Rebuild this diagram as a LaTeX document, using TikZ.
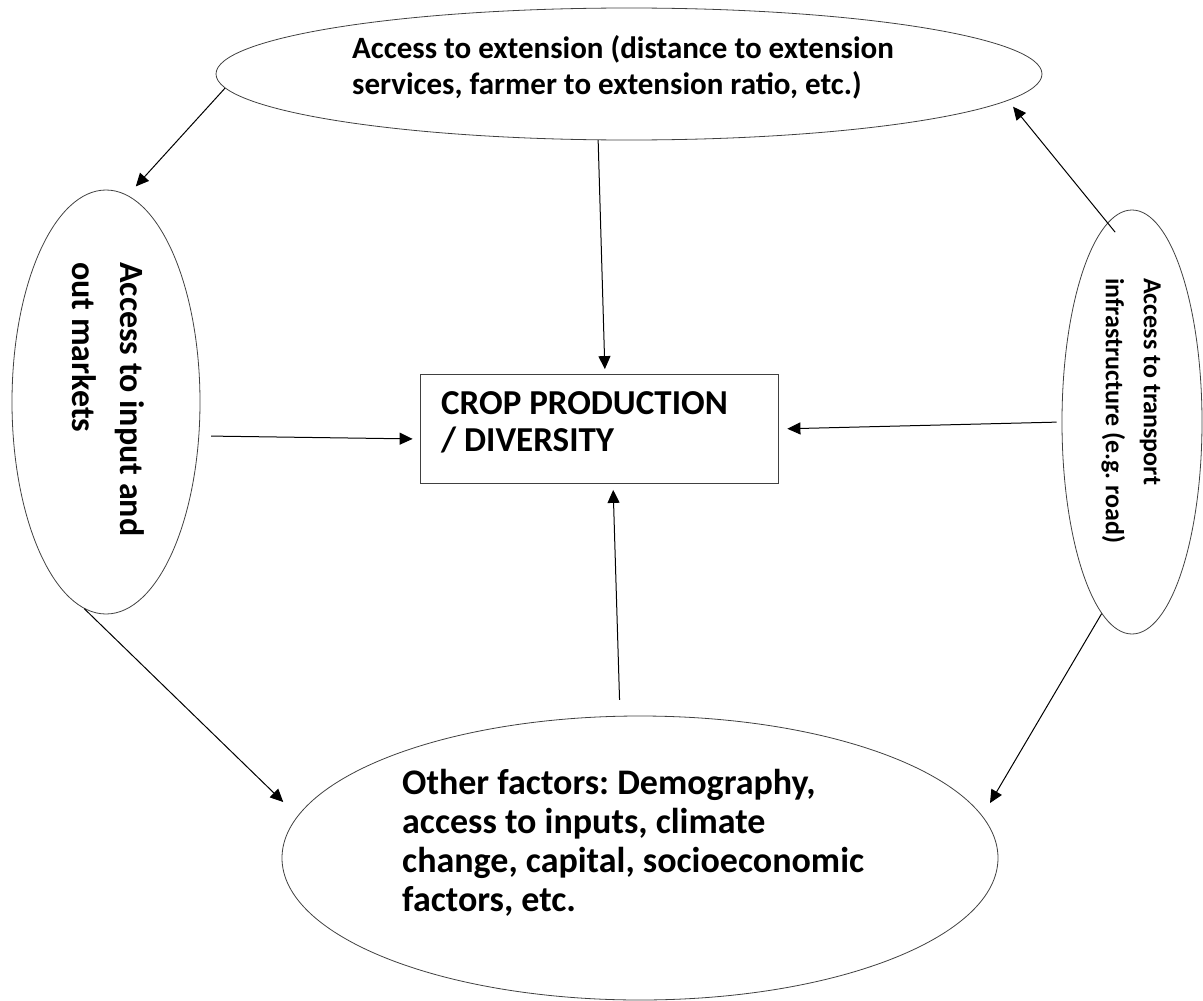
\documentclass[tikz,border=0pt]{standalone}
\usepackage{fontspec}
\setmainfont{Carlito}
\usepackage{tikz}
\usetikzlibrary{arrows.meta, shapes.geometric, calc}
\frenchspacing

\begin{document}
\begin{tikzpicture}[x=1pt, y=-1pt,
   every node/.style={inner sep=0pt},
   oval/.style={draw=black!75, ellipse, line width=0.8pt},
   box/.style={draw=black!75, line width=0.8pt,
               minimum width=358pt, minimum height=109pt},
   arr/.style={-{Triangle[length=13pt, width=12pt]}, line width=1pt}]
  \useasboundingbox (0,0) rectangle (1203,1001);

  % the five blocks
  \node[oval, minimum width=826pt, minimum height=132pt] (ext) at (629,74) {};
  \node[oval, minimum width=188pt, minimum height=424pt] (mkt) at (106,402) {};
  \node[oval, minimum width=140pt, minimum height=424pt] (road) at (1132,422) {};
  \node[oval, minimum width=716pt, minimum height=284pt] (other) at (640,858) {};
  \node[box] (crop) at (599,429) {};

  % their texts
  \node[align=left, font=\bfseries\fontsize{31}{36}\selectfont]
       (exttxt) at (623,67)
       {Access to extension (distance to extension\\
        services, farmer to extension ratio, etc.)};
  \node[align=left, anchor=north west, rotate=-90,
        font=\bfseries\fontsize{34}{48}\selectfont]
       (mkttxt) at (145,262) {Access to input and\\out markets};
  \node[align=left, anchor=north west, rotate=-90,
        font=\bfseries\fontsize{26}{38}\selectfont]
       (roadtxt) at (1161,278) {Access to transport\\infrastructure (e.g. road)};
  \node[align=left, anchor=west, font=\bfseries\fontsize{36}{39}\selectfont]
       (othertxt) at (402,843)
       {Other factors: Demography,\\access to inputs, climate\\
        change, capital, socioeconomic\\factors, etc.};
  \node[align=left, anchor=north west, font=\bfseries\fontsize{35}{37}\selectfont]
       (croptxt) at (441,391) {CROP PRODUCTION\\/ DIVERSITY};

  % links
  \draw[arr, shorten >=12pt] (ext.182) -- (mkt.84);
  \draw[arr, shorten >=5pt] (ext.245) -- ([xshift=6pt]crop.north);
  \draw[arr, shorten <=12pt, shorten >=7pt] (mkt.-20) -- ([yshift=-10pt]crop.west);
  \draw[arr, shorten <=5pt, shorten >=9pt] (road.180) -- (crop.east);
  \draw[arr, shorten <=-12pt, shorten >=8pt] (road.97) -- (ext.-4);
  \draw[arr, shorten <=16pt, shorten >=6pt] (other.98) -- ([xshift=14pt]crop.south);
  \draw[arr, shorten >=20pt] (mkt.264) -- (other.173);
  \draw[arr, shorten >=15pt] (road.261) -- (other.7.5);
\end{tikzpicture}
\end{document}
